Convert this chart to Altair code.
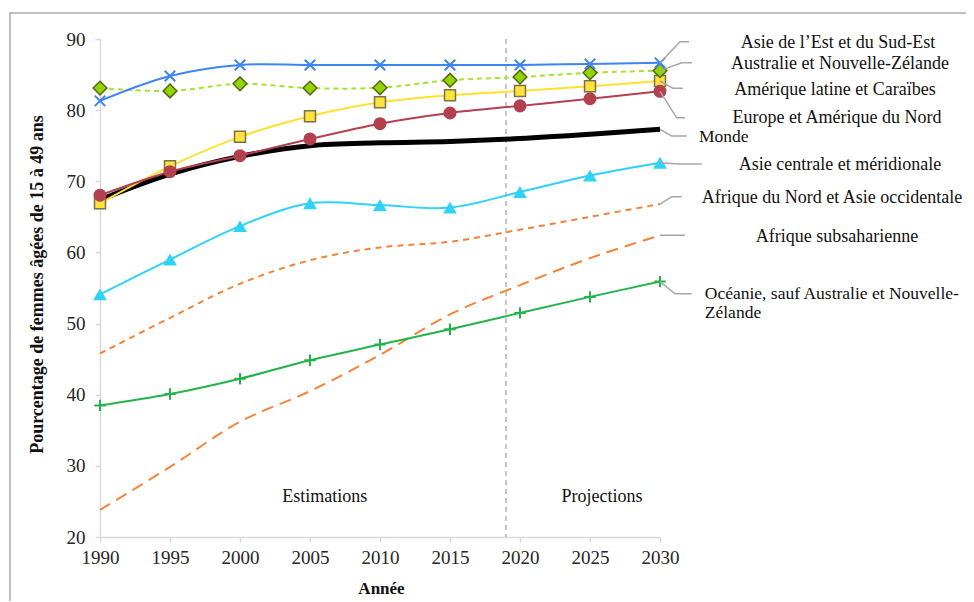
import altair as alt
import pandas as pd

years = [1990, 1995, 2000, 2005, 2010, 2015, 2020, 2025, 2030]

series_names = [
    "Asie de l’Est et du Sud-Est",
    "Australie et Nouvelle-Zélande",
    "Amérique latine et Caraïbes",
    "Europe et Amérique du Nord",
    "Monde",
    "Asie centrale et méridionale",
    "Afrique du Nord et Asie occidentale",
    "Afrique subsaharienne",
    "Océanie, sauf Australie et Nouvelle-\nZélande",
]

asie_est = [81.3, 84.8, 86.35, 86.35, 86.35, 86.35, 86.35, 86.5, 86.65]
australie = [83.1, 82.7, 83.7, 83.1, 83.15, 84.2, 84.65, 85.25, 85.55]
amerique_latine = [66.9, 72.1, 76.25, 79.15, 81.1, 82.1, 82.7, 83.35, 84.1]
europe = [68.05, 71.35, 73.6, 75.95, 78.1, 79.6, 80.6, 81.6, 82.65]
monde = [67.4, 71.0, 73.5, 75.0, 75.4, 75.6, 76.0, 76.6, 77.3]
asie_centrale = [54.1, 59.0, 63.7, 66.9, 66.65, 66.3, 68.5, 70.8, 72.6]
afrique_nord = [45.8, 50.8, 55.6, 58.9, 60.7, 61.5, 63.2, 65.0, 66.8]
afrique_sub = [23.8, 29.85, 36.2, 40.5, 45.6, 51.3, 55.4, 59.2, 62.4]
oceanie = [38.5, 40.1, 42.25, 44.85, 47.05, 49.2, 51.5, 53.75, 55.9]

all_values = [asie_est, australie, amerique_latine, europe, monde,
              asie_centrale, afrique_nord, afrique_sub, oceanie]

# annotation anchors (data units)
leader_y = [89.62, 86.67, 83.07, 78.92, 76.36, 72.43, 67.83, 62.41, 54.18]
leader_bend = [2031.43, 2031.55, 2030.93, 2031.19, 2030.84, 2031.43, 2030.84, 2030.86, 2031.07]
leader_end = [2032.07, 2032.29, 2031.64, 2031.79, 2031.91, 2032.98, 2031.55, 2031.79, 2032.26]
label_y = [89.44, 86.49, 82.83, 78.9, 76.22, 72.29, 67.65, 62.17, 54.15]
label_x = [2042.71, 2042.86, 2042.5, 2042.64, 2032.79, 2042.86, 2042.29, 2042.64, 2033.2]
label_align = ["center", "center", "center", "center", "left", "center", "center", "center", "left"]

divider_year = [2019]
period_text = ["Estimations", "Projections"]
period_x = [2006.05, 2025.85]
period_y = [25.6, 25.6]

FONT = "'Liberation Serif', 'Times New Roman', Times, 'DejaVu Serif', serif"

styles = [
    dict(color="#3d85f5", width=2, dash=None, shape="M-1,-1L1,1M-1,1L1,-1", size=110, filled=False, fill=None, stroke="#3d85f5", sw=2),
    dict(color="#a8e22a", width=2, dash=[5, 4], shape="diamond", size=190, filled=True, fill="#92d400", stroke="#55651c", sw=1.5),
    dict(color="#ffe12e", width=2, dash=None, shape="square", size=120, filled=True, fill="#ffe33a", stroke="#77724a", sw=1.5),
    dict(color="#b3404f", width=2, dash=None, shape="circle", size=170, filled=True, fill="#b3404f", stroke="#b3404f", sw=0),
    dict(color="#000000", width=5, dash=None, shape=None),
    dict(color="#2ed3f7", width=2, dash=None, shape="triangle-up", size=190, filled=True, fill="#2ed3f7", stroke="#2ed3f7", sw=0),
    dict(color="#f5843a", width=2, dash=[6, 5], shape=None),
    dict(color="#f5843a", width=2, dash=[12, 7], shape=None),
    dict(color="#24b34b", width=2, dash=None, shape="M-1,0L1,0M0,-1L0,1", size=130, filled=False, fill=None, stroke="#24b34b", sw=2),
]
draw_order = [7, 6, 8, 5, 4, 2, 3, 1, 0]

xscale = alt.Scale(domain=[1990, 2030], nice=False, zero=False)
yscale = alt.Scale(domain=[20, 90], nice=False, zero=False)

xaxis = alt.Axis(values=years, format="d", title="Année", tickSize=5, labelPadding=6,
                 labelFlush=False, labelOverlap=False,
                 titleFontWeight="bold", titleFontSize=17, titleX=281, titleY=56,
                 titleBaseline="alphabetic", titleAlign="center")
yaxis = alt.Axis(values=list(range(20, 91, 5)), tickSize=5, labelPadding=10,
                 labelExpr="datum.value % 10 == 0 ? datum.label : ''",
                 labelFlush=False, labelOverlap=False,
                 title="Pourcentage de femmes âgées de 15 à 49 ans",
                 titleFontWeight="bold", titleFontSize=18, titleX=-63, titleY=245,
                 titleAngle=270, titleBaseline="middle", titleAlign="center")

frame = alt.Chart(pd.DataFrame({"a": [0]})).mark_rect(
    fill="transparent", stroke="#bfbfbf", strokeWidth=2
).encode(x=alt.value(-90), x2=alt.value(950), y=alt.value(-26), y2=alt.value(700))

layers = [frame]

divider = alt.Chart(pd.DataFrame({"year": divider_year})).mark_rule(
    color="#8c8c8c", strokeDash=[5, 4], strokeWidth=1
).encode(x=alt.X("year:Q", scale=xscale, axis=xaxis), y=alt.value(0), y2=alt.value(498))
layers.append(divider)

for i in draw_order:
    st = styles[i]
    df = pd.DataFrame({"year": years, "value": all_values[i]})
    base = alt.Chart(df)
    line_kw = dict(color=st["color"], strokeWidth=st["width"], interpolate="catmull-rom")
    if st["dash"]:
        line_kw["strokeDash"] = st["dash"]
    line = base.mark_line(**line_kw).encode(
        x=alt.X("year:Q", scale=xscale, axis=xaxis),
        y=alt.Y("value:Q", scale=yscale, axis=yaxis),
    )
    layers.append(line)
    if st["shape"]:
        pkw = dict(shape=st["shape"], size=st["size"], filled=st["filled"], opacity=1)
        if st["filled"]:
            pkw["fill"] = st["fill"]
            if st["sw"] > 0:
                pkw["stroke"] = st["stroke"]
                pkw["strokeWidth"] = st["sw"]
            else:
                pkw["strokeWidth"] = 0
        else:
            pkw["stroke"] = st["stroke"]
            pkw["strokeWidth"] = st["sw"]
        pts = base.mark_point(**pkw).encode(x="year:Q", y="value:Q")
        layers.append(pts)

# leader lines
rows = []
for i in range(len(series_names)):
    rows.append({"s": i, "o": 0, "x": years[-1], "y": all_values[i][-1]})
    rows.append({"s": i, "o": 1, "x": leader_bend[i], "y": leader_y[i]})
    rows.append({"s": i, "o": 2, "x": leader_end[i], "y": leader_y[i]})
leaders = alt.Chart(pd.DataFrame(rows)).mark_line(color="#a6a6a6", strokeWidth=1.5).encode(
    x=alt.X("x:Q", scale=xscale), y=alt.Y("y:Q", scale=yscale),
    detail="s:N", order="o:Q")
layers.append(leaders)

lab_df = pd.DataFrame({"t": series_names, "x": label_x, "y": label_y, "a": label_align})
for al, fs in [("center", 18), ("left", 17.5)]:
    txt = alt.Chart(lab_df[lab_df["a"] == al]).mark_text(
        align=al, baseline="middle", font=FONT, fontSize=fs, color="#111111", lineBreak="\n",
        lineHeight=19
    ).encode(x=alt.X("x:Q", scale=xscale), y=alt.Y("y:Q", scale=yscale), text="t:N")
    layers.append(txt)

per = alt.Chart(pd.DataFrame({"t": period_text, "x": period_x, "y": period_y})).mark_text(
    align="center", baseline="middle", font=FONT, fontSize=18, color="#111111"
).encode(x=alt.X("x:Q", scale=xscale), y=alt.Y("y:Q", scale=yscale), text="t:N")
layers.append(per)

chart = alt.layer(*layers).properties(
    width=560, height=498,
    autosize=alt.AutoSizeParams(type="none"),
    padding={"left": 92, "top": 31, "right": 306, "bottom": 64},
).configure_view(strokeWidth=0).configure_axis(
    grid=False, domainColor="#d9d9d9", domainWidth=1.5, tickColor="#d9d9d9", tickWidth=1.5,
    labelFont=FONT, labelFontSize=19, labelColor="#262626", titleFont=FONT, titleColor="#111111"
)

chart.save("out.html", embed_options={"renderer": "svg", "actions": False})
